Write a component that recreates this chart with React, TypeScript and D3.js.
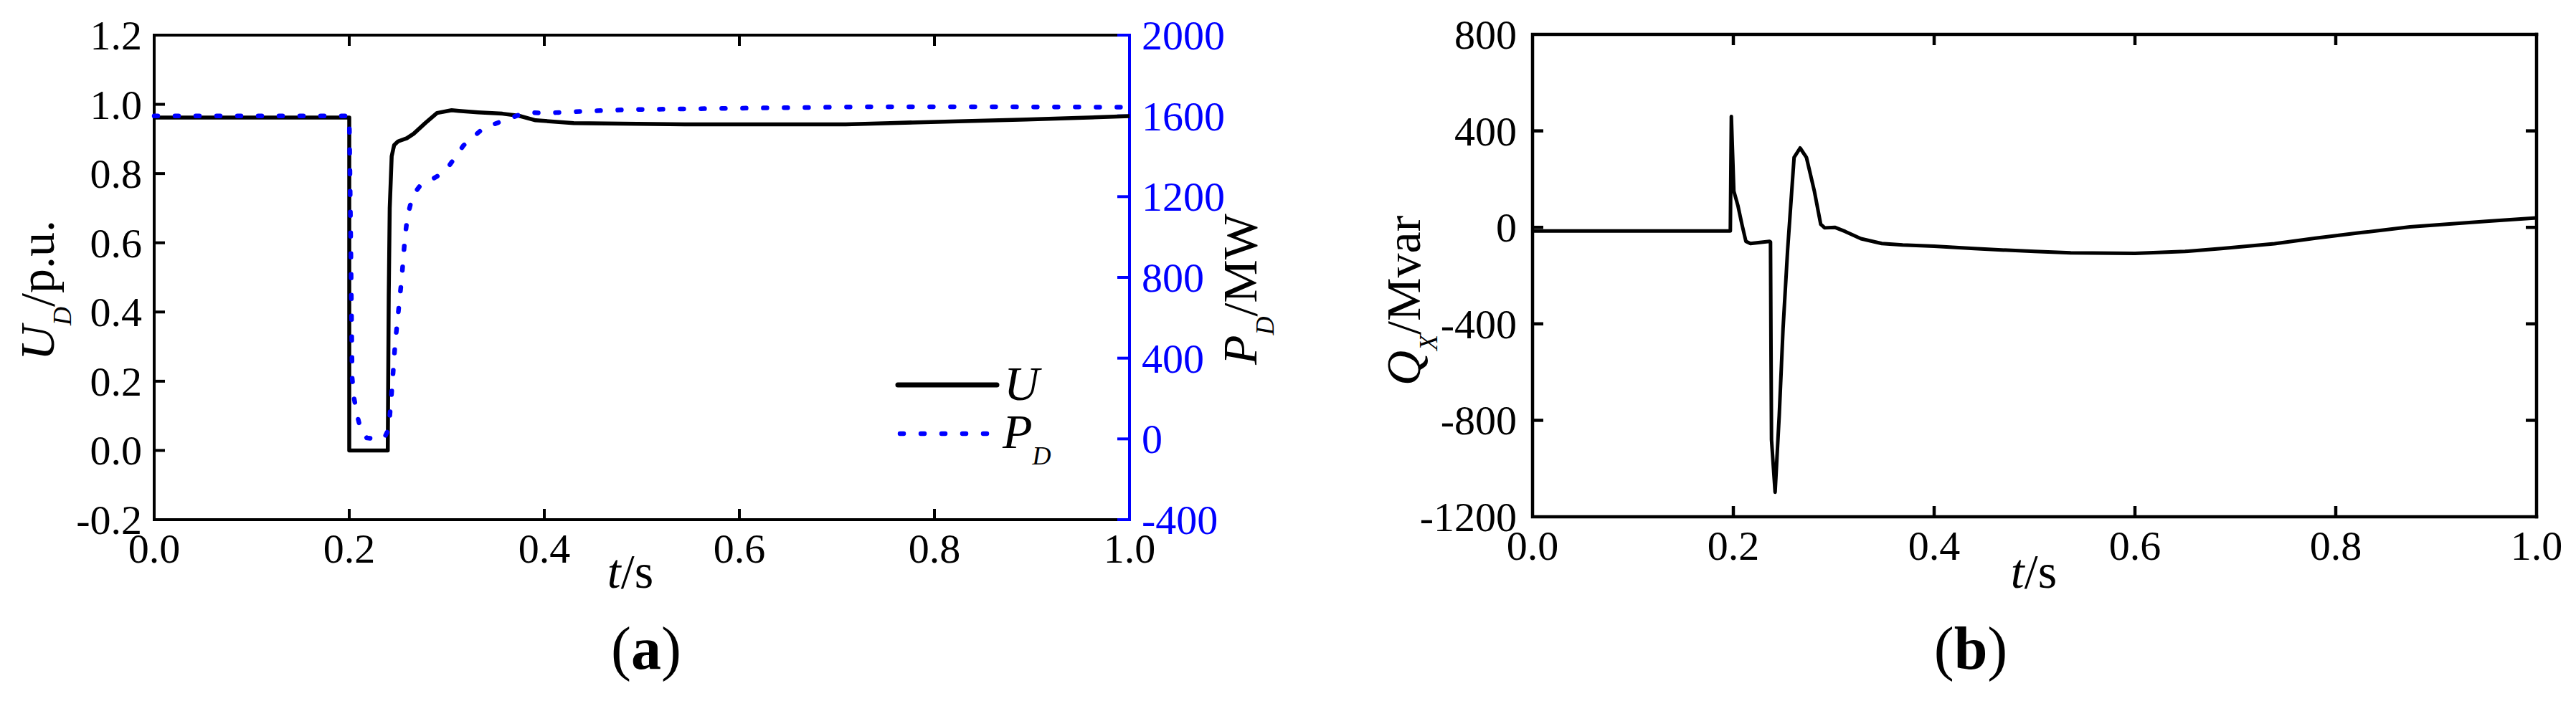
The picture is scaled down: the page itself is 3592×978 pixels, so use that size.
import React from 'react';
import * as d3 from 'd3';

const FONT = '"Liberation Serif", "Times New Roman", serif';
const BLUE = '#0000ff';

// panel (a): bus voltage U (left axis) and DC power P_D (right axis)
const tU = [0, 0.2, 0.2, 0.2395, 0.2405, 0.2415, 0.2435, 0.246, 0.25, 0.259, 0.266, 0.278, 0.29, 0.305, 0.3125, 0.332, 0.357, 0.374, 0.391, 0.43, 0.544, 0.709, 0.755, 0.894, 1.0];
const uVals = [0.962, 0.962, 0.0, 0.0, 0.45, 0.7, 0.85, 0.882, 0.893, 0.902, 0.915, 0.946, 0.975, 0.983, 0.981, 0.977, 0.973, 0.967, 0.954, 0.946, 0.942, 0.942, 0.946, 0.956, 0.966];

const tP = [0, 0.2, 0.2015, 0.203, 0.205, 0.208, 0.212, 0.218, 0.227, 0.236, 0.2405, 0.243, 0.245, 0.247, 0.2537, 0.257, 0.2596, 0.265, 0.272, 0.281, 0.29, 0.302, 0.317, 0.3375, 0.359, 0.381, 0.402, 0.446, 0.488, 0.6, 0.73, 0.85, 1.0];
const pVals = [1600, 1600, 1000, 300, 200, 120, 40, 5, 0, 5, 50, 200, 330, 470, 790, 990, 1100, 1205, 1250, 1276, 1300, 1350, 1453, 1539, 1578, 1617, 1614, 1624, 1631, 1638, 1645, 1645, 1643];

// panel (b): reactive power Q_X
const tQ = [0, 0.197, 0.198, 0.2005, 0.2045, 0.2085, 0.2125, 0.217, 0.236, 0.237, 0.2375, 0.238, 0.2416, 0.2457, 0.2495, 0.254, 0.2605, 0.2665, 0.2728, 0.2807, 0.287, 0.291, 0.301, 0.3114, 0.3271, 0.3479, 0.3686, 0.4, 0.44, 0.5, 0.536, 0.6, 0.65, 0.686, 0.739, 0.78, 0.825, 0.874, 0.95, 1.0];
const qVals = [-15, -15, 460, 150, 91, 13, -58, -67, -58, -60, -500, -880, -1098, -780, -420, -97, 290, 329, 290, 150, 13, -2, 0, -17, -47, -67, -73, -78, -88, -100, -106, -108, -100, -88, -68, -45, -22, 2, 25, 39];

const xTicks = [0, 0.2, 0.4, 0.6, 0.8, 1.0];
const uTicks = [-0.2, 0, 0.2, 0.4, 0.6, 0.8, 1.0, 1.2];
const pTicks = [-400, 0, 400, 800, 1200, 1600, 2000];
const qTicks = [-1200, -800, -400, 0, 400, 800];

const xA = d3.scaleLinear().domain([0, 1]).range([215, 1575]);
const yU = d3.scaleLinear().domain([-0.2, 1.2]).range([725, 49]);
const yP = d3.scaleLinear().domain([-400, 2000]).range([725, 49]);
const xB = d3.scaleLinear().domain([0, 1]).range([2137, 3537]);
const yQ = d3.scaleLinear().domain([-1200, 800]).range([721, 48]);

const TICK = 15;

function Frame({ x, y, sw, rightAxis = true }: any) {
  const [x0, x1] = x.range();
  const [yb, yt] = y.range();
  const inner = (arr: number[], s: any) => arr.filter((v) => s(v) > Math.min(...s.range()) + 1 && s(v) < Math.max(...s.range()) - 1);
  return (
    <g stroke="#000" strokeWidth={sw} fill="none">
      <path d={`M${x0},${yt}H${x1}M${x0},${yt}V${yb}H${x1}`} strokeLinecap="square" />
      {rightAxis && <path d={`M${x1},${yt}V${yb}`} strokeLinecap="square" />}
      {inner(xTicks, x).map((v) => (
        <g key={v}>
          <line x1={x(v)} x2={x(v)} y1={yt} y2={yt + TICK} />
          <line x1={x(v)} x2={x(v)} y1={yb} y2={yb - TICK} />
        </g>
      ))}
    </g>
  );
}

function XLabels({ x, yb }: any) {
  return (
    <g fontFamily={FONT} fontSize={58} textAnchor="middle" fill="#000">
      {xTicks.map((v) => (
        <text key={v} x={x(v)} y={yb + 60}>{v.toFixed(1)}</text>
      ))}
    </g>
  );
}

export default function App() {
  const lineU = d3.line<number>().x((_, i) => xA(tU[i])).y((d) => yU(d));
  const lineP = d3.line<number>().x((_, i) => xA(tP[i])).y((d) => yP(d));
  const lineQ = d3.line<number>().x((_, i) => xB(tQ[i])).y((d) => yQ(d));

  return (
    <svg width={3592} height={978} style={{ position: 'absolute', left: 0, top: 0, background: '#fff' }}>
      {/* ---------- panel (a) ---------- */}
      <Frame x={xA} y={yU} sw={4} rightAxis={false} />
      <g stroke="#000" strokeWidth={4}>
        {uTicks.slice(1, -1).map((v) => (
          <line key={v} x1={215} x2={215 + TICK} y1={yU(v)} y2={yU(v)} />
        ))}
      </g>
      <g stroke={BLUE} strokeWidth={4}>
        <line x1={1575} x2={1575} y1={47} y2={727} />
        {pTicks.map((v) => (
          <line key={v} x1={1575} x2={1575 - TICK - 2} y1={yP(v)} y2={yP(v)} />
        ))}
      </g>
      <path d={lineU(uVals) || ''} fill="none" stroke="#000" strokeWidth={5.5} strokeLinejoin="round" />
      <path d={lineP(pVals) || ''} fill="none" stroke={BLUE} strokeWidth={6.5} strokeDasharray="5 24" strokeLinecap="round" />

      <g fontFamily={FONT} fontSize={58} textAnchor="end" fill="#000">
        {uTicks.map((v) => (
          <text key={v} x={198} y={yU(v) + 20}>{v.toFixed(1)}</text>
        ))}
      </g>
      <g fontFamily={FONT} fontSize={58} textAnchor="start" fill={BLUE}>
        {pTicks.map((v) => (
          <text key={v} x={1592} y={yP(v) + 20}>{String(v)}</text>
        ))}
      </g>
      <XLabels x={xA} yb={725} />

      <g fontFamily={FONT} fontSize={68} fill="#000">
        <text x={879} y={820} textAnchor="middle">
          <tspan fontStyle="italic">t</tspan>
          <tspan>/s</tspan>
        </text>
        <text transform="translate(75,503) rotate(-90)">
          <tspan fontStyle="italic">U</tspan>
          <tspan fontStyle="italic" fontSize={36} dy={24}>D</tspan>
          <tspan dy={-24}>/p.u.</tspan>
        </text>
        <text transform="translate(1752,298) rotate(-90)" textAnchor="end">
          <tspan fontStyle="italic">P</tspan>
          <tspan fontStyle="italic" fontSize={36} dy={24}>D</tspan>
          <tspan dy={-24}>/MW</tspan>
        </text>
      </g>

      {/* legend */}
      <line x1={1252} x2={1390} y1={537} y2={537} stroke="#000" strokeWidth={7} strokeLinecap="round" />
      <line x1={1255} x2={1385} y1={605} y2={605} stroke={BLUE} strokeWidth={6.5} strokeDasharray="5 24" strokeLinecap="round" />
      <g fontFamily={FONT} fontSize={68} fontStyle="italic" fill="#000">
        <text x={1400} y={558}>U</text>
        <text x={1398} y={625}>
          <tspan>P</tspan>
          <tspan fontSize={36} dy={23}>D</tspan>
        </text>
      </g>

      <text x={901} y={933} textAnchor="middle" fontFamily={FONT} fontSize={84} fill="#000">
        <tspan>(</tspan>
        <tspan fontWeight="bold">a</tspan>
        <tspan>)</tspan>
      </text>

      {/* ---------- panel (b) ---------- */}
      <Frame x={xB} y={yQ} sw={4.5} />
      <g stroke="#000" strokeWidth={4.5}>
        {qTicks.slice(1, -1).map((v) => (
          <g key={v}>
            <line x1={2137} x2={2137 + TICK} y1={yQ(v)} y2={yQ(v)} />
            <line x1={3537} x2={3537 - TICK} y1={yQ(v)} y2={yQ(v)} />
          </g>
        ))}
      </g>
      <path d={lineQ(qVals) || ''} fill="none" stroke="#000" strokeWidth={5} strokeLinejoin="round" />

      <g fontFamily={FONT} fontSize={58} textAnchor="end" fill="#000">
        {qTicks.map((v) => (
          <text key={v} x={2115} y={yQ(v) + 20}>{String(v)}</text>
        ))}
      </g>
      <XLabels x={xB} yb={721} />

      <g fontFamily={FONT} fontSize={68} fill="#000">
        <text x={2836} y={820} textAnchor="middle">
          <tspan fontStyle="italic">t</tspan>
          <tspan>/s</tspan>
        </text>
        <text transform="translate(1980,538) rotate(-90)">
          <tspan fontStyle="italic">Q</tspan>
          <tspan fontStyle="italic" fontSize={36} dy={24}>X</tspan>
          <tspan dy={-24}>/Mvar</tspan>
        </text>
      </g>

      <text x={2748} y={933} textAnchor="middle" fontFamily={FONT} fontSize={84} fill="#000">
        <tspan>(</tspan>
        <tspan fontWeight="bold">b</tspan>
        <tspan>)</tspan>
      </text>
    </svg>
  );
}
